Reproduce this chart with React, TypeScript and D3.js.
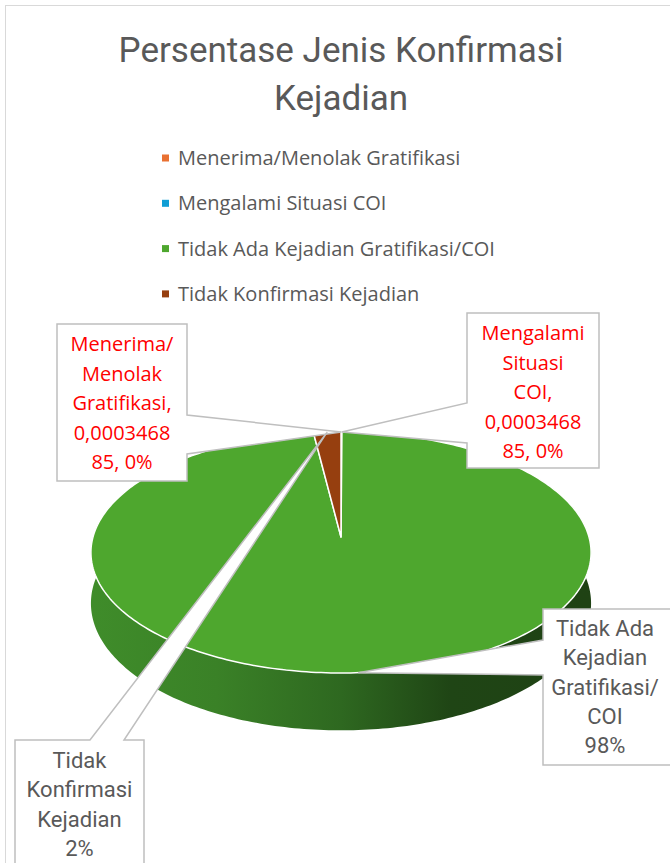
import React from "react";
import * as d3 from "d3";

// chart data
const categories = [
  "Menerima/Menolak Gratifikasi",
  "Mengalami Situasi COI",
  "Tidak Ada Kejadian Gratifikasi/COI",
  "Tidak Konfirmasi Kejadian",
];
const values = [0.000346885, 0.000346885, 0.98, 0.02];
const sliceColors = ["#E97132", "#0F9ED5", "#4EA72E", "#963F0F"];
const labelLines = [
  ["Menerima/", "Menolak", "Gratifikasi,", "0,0003468", "85, 0%"],
  ["Mengalami", "Situasi", "COI,", "0,0003468", "85, 0%"],
  ["Tidak Ada", "Kejadian", "Gratifikasi/", "COI", "98%"],
  ["Tidak", "Konfirmasi", "Kejadian", "2%"],
];
const labelRed = [true, true, false, false];
const titleLines = ["Persentase Jenis Konfirmasi", "Kejadian"];

const W = 670;
const H = 863;

// 3d pie projection (tilted disc with a bit of perspective)
const cx = 341;
const cy = 537;
const rx = 248;
const ry = 118.5;
const persp = 0.1286;
const depth = 50;

const xs = d3.scaleLinear().domain([-1, 1]).range([cx - rx, cx + rx]);
const ys = d3.scaleLinear().domain([-1, 1]).range([cy + ry, cy - ry]);

function project(a: number, r = 1, down = 0): [number, number] {
  const X = Math.sin(a) * r;
  const Z = Math.cos(a) * r;
  const s = 1 / (1 + persp * Z);
  return [xs(X * s), ys(Z * s) + down * s];
}

function arcPoints(a0: number, a1: number, down = 0) {
  const pts: [number, number][] = [];
  const n = Math.max(2, Math.ceil(Math.abs(a1 - a0) / (Math.PI / 180)));
  for (let i = 0; i <= n; i++) pts.push(project(a0 + ((a1 - a0) * i) / n, 1, down));
  return pts;
}

// label boxes: [left, top, right, bottom], wedge side and base
const boxes = [
  { x0: 57, y0: 324, x1: 187, y1: 481, side: "right", b0: 415, b1: 454 },
  { x0: 467, y0: 313, x1: 599, y1: 468, side: "left", b0: 403, b1: 443 },
  { x0: 543, y0: 609, x1: 720, y1: 765, side: "left", b0: 640, b1: 675 },
  { x0: 15, y0: 740, x1: 144, y1: 920, side: "top", b0: 90, b1: 124 },
];

function calloutPath(b: any, ax: number, ay: number) {
  const p = d3.path();
  p.moveTo(b.x0, b.y0);
  if (b.side === "top") {
    p.lineTo(b.b0, b.y0);
    p.lineTo(ax, ay);
    p.lineTo(b.b1, b.y0);
  }
  p.lineTo(b.x1, b.y0);
  if (b.side === "right") {
    p.lineTo(b.x1, b.b0);
    p.lineTo(ax, ay);
    p.lineTo(b.x1, b.b1);
  }
  p.lineTo(b.x1, b.y1);
  p.lineTo(b.x0, b.y1);
  if (b.side === "left") {
    p.lineTo(b.x0, b.b1);
    p.lineTo(ax, ay);
    p.lineTo(b.x0, b.b0);
  }
  p.closePath();
  return p.toString();
}

export default function App() {
  const pie = d3.pie<number>().sort(null).value((d) => d);
  const arcs = pie(values);
  const line = d3.line();

  // only the front part of the rim can be seen
  const lo = Math.PI / 3;
  const hi = (5 * Math.PI) / 3;

  return (
    <svg
      width={W}
      height={H}
      style={{ position: "absolute", left: 0, top: 0, background: "#fff" }}
    >
      <defs>
        <linearGradient id="sideGrad" gradientUnits="userSpaceOnUse" x1={xs(-1)} x2={xs(1)} y1={0} y2={0}>
          <stop offset="0" stopColor="#3f8c2a" />
          <stop offset="0.25" stopColor="#3a8127" />
          <stop offset="0.5" stopColor="#2e6820" />
          <stop offset="0.72" stopColor="#1f4515" />
          <stop offset="1" stopColor="#1f4214" />
        </linearGradient>
      </defs>
      <rect x={5.5} y={5.5} width={720} height={900} fill="#fff" stroke="#d9d9d9" />

      {titleLines.map((t, i) => (
        <text
          key={t}
          x={341}
          y={62 + i * 48}
          textAnchor="middle"
          fontFamily="Roboto, sans-serif"
          fontSize={35}
          fill="#595959"
        >
          {t}
        </text>
      ))}

      {categories.map((c, i) => (
        <g key={c}>
          <rect x={162} y={154.5 + i * 45.3} width={7} height={7} fill={sliceColors[i]} />
          <text x={178} y={165 + i * 45.3} fontFamily="'Open Sans', sans-serif" fontSize={20} fill="#595959">
            {c}
          </text>
        </g>
      ))}

      {/* side of the pie */}
      {arcs.map((a, i) => {
        const a0 = Math.max(a.startAngle, lo);
        const a1 = Math.min(a.endAngle, hi);
        if (a1 <= a0) return null;
        const pts = arcPoints(a0, a1).concat(arcPoints(a1, a0, depth));
        return <path key={"s" + i} d={line(pts) + "Z"} fill={i === 2 ? "url(#sideGrad)" : sliceColors[i]} />;
      })}

      {/* top faces */}
      {arcs.map((a, i) => {
        if (a.endAngle - a.startAngle < 1e-3) return null;
        const pts = [project(0, 0) as [number, number]].concat(arcPoints(a.startAngle, a.endAngle));
        return (
          <path key={"t" + i} d={line(pts) + "Z"} fill={sliceColors[i]} stroke="#fff" strokeWidth={1.5} strokeLinejoin="round" />
        );
      })}

      {/* data callouts */}
      {arcs.map((a, i) => {
        const mid = (a.startAngle + a.endAngle) / 2;
        const [ax, ay] = project(mid);
        const b = boxes[i];
        const lines = labelLines[i];
        const red = labelRed[i];
        const lh = red ? 29.5 : 29.3;
        const tx = i === 2 ? 605 : (b.x0 + b.x1) / 2;
        const ty0 = i === 3 ? b.y0 + 28 : b.y0 + 27;
        return (
          <g key={"c" + i}>
            <path d={calloutPath(b, ax, ay)} fill="#fff" stroke="#bfbfbf" strokeWidth={1.5} />
            {lines.map((l, j) => (
              <text
                key={j}
                x={tx}
                y={ty0 + j * lh}
                textAnchor="middle"
                fontFamily={red ? "'Open Sans', sans-serif" : "Roboto, sans-serif"}
                fontSize={red ? 20 : 22}
                fill={red ? "#ff0000" : "#595959"}
              >
                {l}
              </text>
            ))}
          </g>
        );
      })}
    </svg>
  );
}
